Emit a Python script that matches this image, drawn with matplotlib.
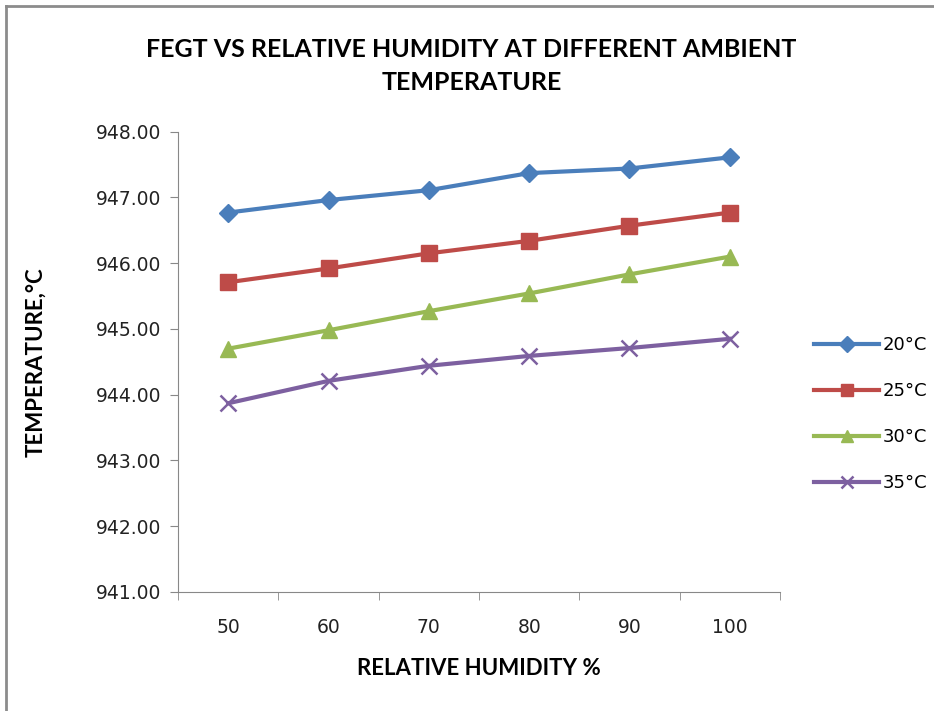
import matplotlib.pyplot as plt
from matplotlib.lines import Line2D
import numpy as np

# datos
humedad = ['50', '60', '70', '80', '90', '100']
t20 = [946.77, 946.96, 947.11, 947.37, 947.44, 947.61]
t25 = [945.71, 945.92, 946.15, 946.34, 946.57, 946.77]
t30 = [944.70, 944.98, 945.27, 945.54, 945.83, 946.10]
t35 = [943.87, 944.21, 944.44, 944.59, 944.71, 944.85]
etiquetas = ['20°C', '25°C', '30°C', '35°C']

colores = ['#4A7EBB', '#BE4B48', '#98B954', '#7D60A0']
marcadores = ['D', 's', '^', 'x']
tamanos = [9, 11, 11, 11]

fig = plt.figure(figsize=(9.34, 7.11), dpi=100)
ax = fig.add_axes([0.1906, 0.1674, 0.6445, 0.6474])

x = np.arange(len(humedad))
for serie, etq, c, m, s in zip([t20, t25, t30, t35], etiquetas, colores, marcadores, tamanos):
    ax.plot(x, serie, color=c, lw=3, marker=m, markersize=s,
            markeredgewidth=1.8 if m == 'x' else 1, label=etq)

ax.set_xlim(-0.5, 5.5)
ax.set_ylim(941, 948)
ax.set_yticks(np.arange(941, 949, 1))
ax.set_yticklabels([f'{v:.2f}' for v in range(941, 949)], fontsize=13.5, color='#222222',
                   family='DejaVu Sans')
ax.set_xticks(x)
ax.set_xticklabels(humedad, fontsize=13.5, color='#222222', family='DejaVu Sans')
ax.set_xticks(np.arange(-0.5, 6, 1), minor=True)
ax.tick_params(axis='x', which='major', length=0, pad=19)
ax.tick_params(axis='x', which='minor', length=6, color='#888888')
ax.tick_params(axis='y', length=6, color='#888888', pad=6)

for lado in ['top', 'right']:
    ax.spines[lado].set_visible(False)
for lado in ['left', 'bottom']:
    ax.spines[lado].set_color('#888888')

ax.set_xlabel('RELATIVE HUMIDITY %', fontsize=16, fontweight='bold', family='Lato', labelpad=15)
ax.set_ylabel('TEMPERATURE,°C', fontsize=16, fontweight='bold', family='Lato', labelpad=36)

fig.text(0.505, 0.907, 'FEGT VS RELATIVE HUMIDITY AT DIFFERENT AMBIENT\nTEMPERATURE',
         ha='center', va='center', fontsize=18, fontweight='bold', family='Lato',
         linespacing=1.55)

ax.legend(loc='center left', bbox_to_anchor=(1.03, 0.387), frameon=False,
          prop={'family': 'DejaVu Sans', 'size': 13},
          handlelength=3.6, labelspacing=1.55, handletextpad=0.2, markerscale=0.85)

# marco del grafico
fig.add_artist(Line2D([0.0065, 1.0], [0.9915, 0.9915], color='#8c8c8c', lw=2, transform=fig.transFigure))
fig.add_artist(Line2D([0.0065, 0.0065], [0.0, 0.9915], color='#8c8c8c', lw=2, transform=fig.transFigure))

fig.savefig('out.png', dpi=100)
